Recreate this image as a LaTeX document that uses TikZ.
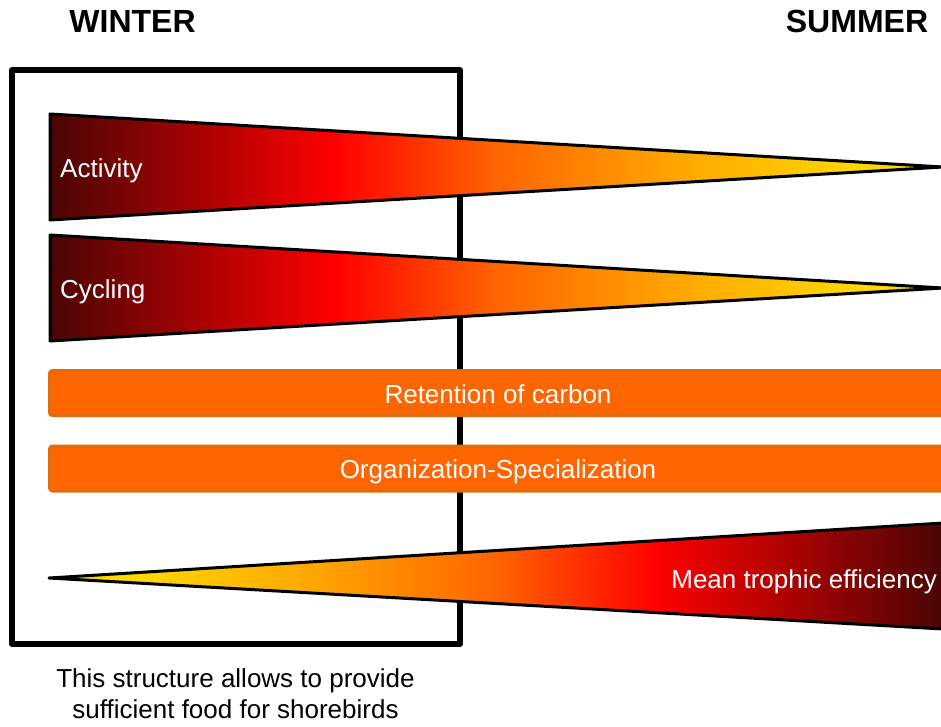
\documentclass[tikz,border=0pt]{standalone}
\usepackage{fontspec}
\setmainfont{Liberation Sans}
\definecolor{dkred}{HTML}{4A0505}
\definecolor{orng}{HTML}{FF6400}
\definecolor{amber}{HTML}{FFA500}
\definecolor{gold}{HTML}{FFD700}
\definecolor{band}{HTML}{FF6600}
\definecolor{bandedge}{HTML}{E36C0A}
\pgfdeclarehorizontalshading{heat}{100bp}{color(0bp)=(dkred); color(25bp)=(dkred); color(41bp)=(red); color(50bp)=(orng); color(60bp)=(amber); color(70bp)=(gold); color(100bp)=(gold)}
\begin{document}
\begin{tikzpicture}[x=1pt, y=-1pt, line join=round, line cap=round,
	font=\fontsize{26}{31}\selectfont,
	wedge/.style={draw=black, line width=3pt, shade, shading=heat},
	band/.style={draw=bandedge, fill=band, line width=3pt, rounded corners=3pt},
	season/.style={font=\fontsize{32}{38}\selectfont\bfseries, inner sep=0pt},
	lbl/.style={text=white, inner sep=0pt}]
			\pgfmathsetmacro{\h}{53}
			\pgfmathsetmacro{\xl}{50}
			\pgfmathsetmacro{\xr}{943}
			\useasboundingbox (0,0) rectangle (941,726);
			\node[season, anchor=base] (W) at (132.5,32) {WINTER};
			\node[season, anchor=base] (S) at (857,32) {SUMMER};
			\draw[line width=5.5pt] (12,70)coordinate(A) rectangle (460,644)coordinate(C);
			\foreach \y/\t/\n in {167/Activity/act, 288/Cycling/cyc}{
				\path[wedge] (\xl,\y-\h)--(\xr,\y)--(\xl,\y+\h)--cycle;
				\node[lbl, anchor=base west] (\n) at (60,\y+10) {\t};
			}
			\foreach \y/\t/\n in {393/Retention of carbon/ret, 468.5/Organization-Specialization/org}{
				\draw[band] (49.5,\y-22.5) rectangle (960,\y+22.5);
				\node[lbl, anchor=base] (\n) at (498,\y+10) {\t};
			}
			\path[wedge, shading angle=180] (49,578)coordinate(T)--(\xr,576-53)--(\xr,576+53)--cycle;
			\node[lbl, anchor=base east] (eff) at (937,588) {Mean trophic efficiency};
			\node[align=center, anchor=base, inner sep=0pt] (note) at (235.5,718) {This structure allows to provide\\sufficient food for shorebirds};
			\end{tikzpicture}
\end{document}
